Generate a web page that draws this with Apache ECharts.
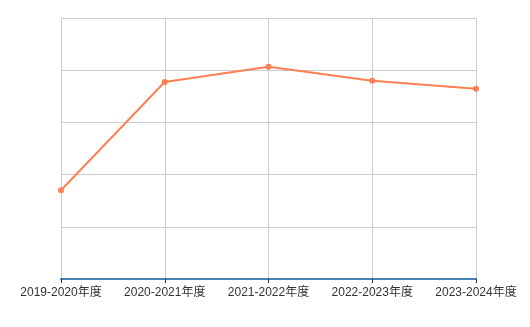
<!DOCTYPE html>
<html>
<head>
<meta charset="utf-8">
<script src="https://cdn.jsdelivr.net/npm/echarts@6/dist/echarts.min.js"></script>
<style>html,body{margin:0;padding:0;background:#fff}#c{width:530px;height:327px}</style>
</head>
<body>
<div id="c"></div>
<script>
const categories = ['2019-2020年度','2020-2021年度','2021-2022年度','2022-2023年度','2023-2024年度'];
const values = [34.0, 75.5, 81.3, 76.0, 72.9];
const yMin = 0, yMax = 100, yInterval = 20;

const chart = echarts.init(document.getElementById('c'));
chart.setOption({
  animation: false,
  grid: {left: 61, right: 54, top: 18, bottom: 48},
  xAxis: {
    type: 'category',
    data: categories,
    boundaryGap: false,
    axisLine: {show: true, lineStyle: {color: '#4682B4', width: 2}},
    axisTick: {show: true, interval: 0, length: 4, lineStyle: {color: '#333'}},
    splitLine: {show: true, interval: 0, lineStyle: {color: '#ccc'}},
    axisLabel: {interval: 0, hideOverlap: false, color: '#333', fontSize: 12, margin: 8, fontFamily: 'Liberation Sans, Noto Sans CJK SC, sans-serif'}
  },
  yAxis: {
    type: 'value',
    min: yMin, max: yMax, interval: yInterval,
    axisLine: {show: false},
    axisTick: {show: false},
    axisLabel: {show: false},
    splitLine: {show: true, lineStyle: {color: '#ccc'}}
  },
  series: [{
    type: 'line',
    data: values,
    symbol: 'circle',
    symbolSize: 6,
    itemStyle: {color: '#FF7F50'},
    lineStyle: {color: '#FF7F50', width: 2}
  }]
});
</script>
</body>
</html>
